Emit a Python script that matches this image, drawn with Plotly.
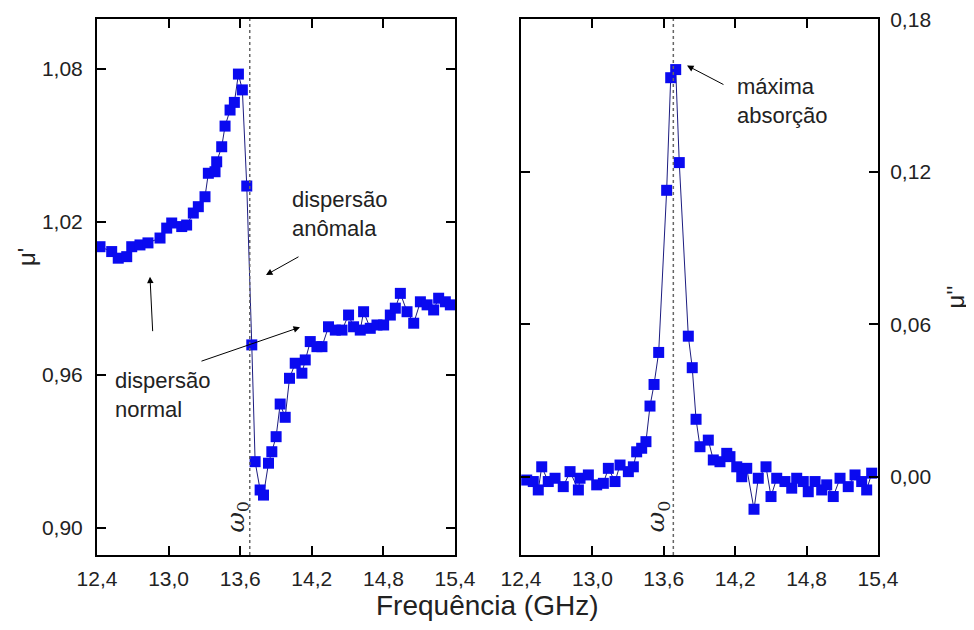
import plotly.graph_objects as go

# ---- data: left panel (mu') ----
freq_real = [12.425, 12.523, 12.578, 12.649, 12.691, 12.760, 12.827, 12.928, 12.984, 13.026,
             13.110, 13.151, 13.207, 13.249, 13.305, 13.333, 13.389, 13.403, 13.445, 13.473,
             13.515, 13.551, 13.585, 13.618, 13.655, 13.697, 13.725, 13.767, 13.795, 13.837,
             13.865, 13.901, 13.935, 13.977, 14.013, 14.061, 14.117, 14.145, 14.187, 14.243,
             14.285, 14.340, 14.397, 14.453, 14.508, 14.550, 14.606, 14.634, 14.690, 14.746,
             14.802, 14.858, 14.900, 14.942, 14.998, 15.054, 15.110, 15.166, 15.221, 15.263,
             15.319, 15.361]
mu_real = [1.0103, 1.0084, 1.0058, 1.0064, 1.0103, 1.0110, 1.0118, 1.0137, 1.0176, 1.0196,
           1.0182, 1.0188, 1.0235, 1.0260, 1.0299, 1.0391, 1.0397, 1.0436, 1.0495, 1.0576,
           1.0639, 1.0669, 1.0780, 1.0718, 1.0341, 0.9718, 0.9260, 0.9149, 0.9129, 0.9254,
           0.9299, 0.9358, 0.9486, 0.9434, 0.9587, 0.9646, 0.9607, 0.9659, 0.9731, 0.9711,
           0.9711, 0.9789, 0.9776, 0.9776, 0.9835, 0.9789, 0.9776, 0.9848, 0.9783, 0.9796,
           0.9796, 0.9835, 0.9862, 0.9920, 0.9848, 0.9803, 0.9887, 0.9875, 0.9855, 0.9901,
           0.9887, 0.9875]

# ---- data: right panel (mu'') ----
freq_imag = [12.448, 12.503, 12.545, 12.574, 12.629, 12.686, 12.755, 12.812, 12.882, 12.896,
             12.966, 13.036, 13.092, 13.134, 13.190, 13.232, 13.302, 13.344, 13.372, 13.414,
             13.450, 13.484, 13.518, 13.557, 13.624, 13.658, 13.700, 13.730, 13.806, 13.839,
             13.871, 13.904, 13.974, 14.016, 14.072, 14.129, 14.156, 14.213, 14.255, 14.297,
             14.358, 14.394, 14.459, 14.501, 14.549, 14.618, 14.675, 14.717, 14.772, 14.814,
             14.871, 14.927, 14.969, 15.024, 15.081, 15.150, 15.207, 15.263, 15.305, 15.347]
mu_imag = [-0.0012, -0.0018, -0.0051, 0.0040, -0.0018, -0.0005, -0.0038, 0.0021, -0.0051, -0.0005,
           0.0008, -0.0031, -0.0025, 0.0034, -0.0018, 0.0047, 0.0021, 0.0040, 0.0099, 0.0113,
           0.0139, 0.0279, 0.0364, 0.0490, 0.1128, 0.1571, 0.1603, 0.1237, 0.0554, 0.0430,
           0.0227, 0.0119, 0.0145, 0.0067, 0.0060, 0.0093, 0.0080, 0.0040, 0.0001, 0.0034,
           -0.0127, -0.0005, 0.0040, -0.0077, -0.0005, -0.0018, -0.0044, -0.0005, -0.0018, -0.0058,
           -0.0018, -0.0051, -0.0031, -0.0077, -0.0005, -0.0038, 0.0008, -0.0018, -0.0051, 0.0015]

omega0 = 13.68
x_ticks = [12.4, 13.0, 13.6, 14.2, 14.8, 15.4]
y1_ticks = [0.90, 0.96, 1.02, 1.08]
y2_ticks = [0.00, 0.06, 0.12, 0.18]

FONT = "Liberation Sans, Arial, sans-serif"
MARK = "#0a0af0"
LINE = "#1c1c80"

fig = go.Figure()
fig.add_trace(go.Scatter(x=freq_real, y=mu_real, mode="lines+markers",
                         line=dict(color=LINE, width=1),
                         marker=dict(symbol="square", size=11, color=MARK, line=dict(width=0)),
                         xaxis="x", yaxis="y", showlegend=False))
fig.add_trace(go.Scatter(x=freq_imag, y=mu_imag, mode="lines+markers",
                         line=dict(color=LINE, width=1),
                         marker=dict(symbol="square", size=11, color=MARK, line=dict(width=0)),
                         xaxis="x2", yaxis="y2", showlegend=False))

axis_common = dict(showline=True, linecolor="black", linewidth=2, mirror="ticks",
                   ticks="inside", ticklen=9, tickwidth=2, tickcolor="black",
                   showgrid=False, zeroline=False, automargin=False,
                   ticklabeloverflow="allow",
                   tickfont=dict(family=FONT, size=21, color="#222222"))

# the page body adds an 8 px offset, so the figure is 8 px smaller and margins shifted
fig.update_layout(
    width=966, height=622,
    margin=dict(l=89, r=96, t=11, b=75, autoexpand=False),
    paper_bgcolor="white", plot_bgcolor="white",
    separators=",.",
    font=dict(family=FONT, color="#222222"),
    xaxis=dict(domain=[0, 0.4584], range=[12.3999, 15.4001], tickvals=x_ticks, tickformat=".1f",
               anchor="y", ticklabelstandoff=4, **axis_common),
    xaxis2=dict(domain=[0.5429, 1], range=[12.3999, 15.4001], tickvals=x_ticks, tickformat=".1f",
                anchor="y2", ticklabelstandoff=4, **axis_common),
    yaxis=dict(range=[0.8894, 1.0996], tickvals=y1_ticks, tickformat=".2f", anchor="x",
               ticklabelstandoff=8, **axis_common),
    yaxis2=dict(range=[-0.0307, 0.1802], tickvals=y2_ticks, tickformat=".2f", anchor="x2",
                side="right", ticklabelstandoff=6, **axis_common),
)

# dashed omega0 lines
for xr, yr in [("x", "y domain"), ("x2", "y2 domain")]:
    fig.add_shape(type="line", xref=xr, yref=yr, x0=omega0, x1=omega0, y0=0, y1=1,
                  line=dict(color="#666666", width=1.5, dash="dot"))

txt = dict(family=FONT, size=22, color="#222222")
ann = []
# text annotations
ann.append(dict(xref="x", yref="y", x=14.017, y=1.0231, text="dispersão<br>anômala",
                showarrow=False, xanchor="left", yanchor="middle", align="left", font=txt))
ann.append(dict(xref="x", yref="y", x=12.534, y=0.9522, text="dispersão<br>normal",
                showarrow=False, xanchor="left", yanchor="middle", align="left", font=txt))
ann.append(dict(xref="x2", yref="y2", x=14.198, y=0.1478, text="máxima<br>absorção",
                showarrow=False, xanchor="left", yanchor="middle", align="left", font=txt))
# arrows
arrow = dict(showarrow=True, arrowhead=2, arrowsize=1.3, arrowwidth=1, arrowcolor="black", text="")
ann.append(dict(xref="x", yref="y", axref="x", ayref="y", x=13.816, y=0.99922,
                ax=14.101, ay=1.00667, **arrow))
ann.append(dict(xref="x", yref="y", axref="x", ayref="y", x=12.844, y=0.99855,
                ax=12.867, ay=0.97659, **arrow))
ann.append(dict(xref="x", yref="y", axref="x", ayref="y", x=14.101, y=0.97871,
                ax=13.263, ay=0.96522, **arrow))
ann.append(dict(xref="x2", yref="y2", axref="x2", ayref="y2", x=13.795, y=0.1619,
                ax=14.114, ay=0.1541, **arrow))
# omega0 labels
om = dict(family="DejaVu Serif, Liberation Serif, serif", size=25, color="#222222")
ann.append(dict(xref="x", yref="y", x=13.565, y=0.9045, text="<i>ω</i><sub>0</sub>",
                showarrow=False, textangle=-90, xanchor="center", yanchor="middle", font=om))
ann.append(dict(xref="x2", yref="y2", x=13.55, y=-0.0155, text="<i>ω</i><sub>0</sub>",
                showarrow=False, textangle=-90, xanchor="center", yanchor="middle", font=om))
# axis titles
ann.append(dict(xref="paper", yref="paper", x=0.4994, y=-0.0933, text="Frequência (GHz)",
                showarrow=False, xanchor="center", yanchor="middle",
                font=dict(family=FONT, size=28, color="#222222")))
ann.append(dict(xref="paper", yref="paper", x=-0.0896, y=0.556, text="μ'",
                showarrow=False, textangle=-90, xanchor="center", yanchor="middle",
                font=dict(family=FONT, size=24, color="#222222")))
ann.append(dict(xref="paper", yref="paper", x=1.099, y=0.481, text="μ''",
                showarrow=False, textangle=-90, xanchor="center", yanchor="middle",
                font=dict(family=FONT, size=24, color="#222222")))

fig.update_layout(annotations=ann)
fig.write_html("out.html")
